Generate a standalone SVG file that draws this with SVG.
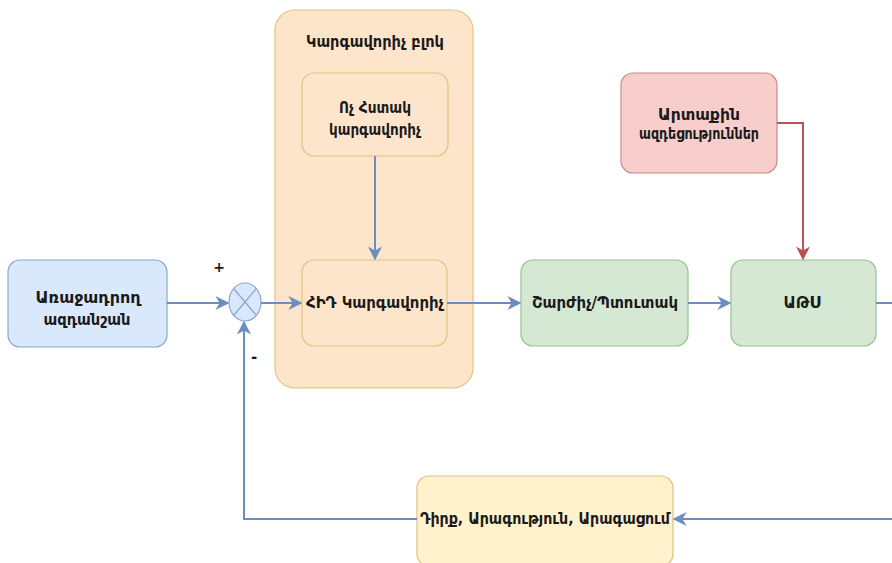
<svg xmlns="http://www.w3.org/2000/svg" width="892" height="563" viewBox="0 0 892 563">
<defs>
<style>
.t{font-family:"DejaVu Sans","Noto Sans",sans-serif;font-stretch:condensed;font-weight:bold;font-size:15px;fill:#1a1a1a;text-anchor:middle}
.blue{fill:#dae8fc;stroke:#8aa6cf;stroke-width:1.2}
.orange{fill:#fde5cc;stroke:#e4c27f;stroke-width:1.2}
.green{fill:#d5e8d4;stroke:#99bf8f;stroke-width:1.2}
.red{fill:#f8cecc;stroke:#c98a88;stroke-width:1.2}
.yellow{fill:#fff2cc;stroke:#dcc27c;stroke-width:1.2}
.c{fill:none;stroke:#6c8ebf;stroke-width:2}
.cr{fill:none;stroke:#b85450;stroke-width:2}
</style>
<marker id="abl" viewBox="0 0 10 10" refX="9" refY="5" markerWidth="14" markerHeight="14" orient="auto" markerUnits="userSpaceOnUse">
<path d="M0,0 L10,5 L0,10 L3,5 Z" fill="#6c8ebf"/>
</marker>
<marker id="ar" viewBox="0 0 10 10" refX="9" refY="5" markerWidth="14" markerHeight="14" orient="auto" markerUnits="userSpaceOnUse">
<path d="M0,0 L10,5 L0,10 L3,5 Z" fill="#b85450"/>
</marker>
</defs>
<rect width="892" height="563" fill="#ffffff"/>

<g id="controller-block">
<rect class="orange" x="275" y="10" width="198" height="378" rx="20"/>
<text class="t" x="375" y="47" textLength="138" lengthAdjust="spacingAndGlyphs">Կարգավորիչ բլոկ</text>
</g>

<g id="fuzzy">
<rect class="orange" x="302" y="73" width="146" height="83" rx="12"/>
<text class="t" x="375" y="113" textLength="72" lengthAdjust="spacingAndGlyphs">Ոչ Հստակ</text>
<text class="t" x="375" y="135" textLength="92" lengthAdjust="spacingAndGlyphs">կարգավորիչ</text>
</g>

<g id="pid">
<rect class="orange" x="302" y="260" width="145" height="86" rx="12"/>
<text class="t" x="375" y="308" textLength="138" lengthAdjust="spacingAndGlyphs">ՀԻԴ Կարգավորիչ</text>
</g>

<g id="reference">
<rect class="blue" x="8" y="260" width="159" height="87" rx="12"/>
<text class="t" x="88" y="303" textLength="105" lengthAdjust="spacingAndGlyphs">Առաջադրող</text>
<text class="t" x="87" y="325" textLength="87" lengthAdjust="spacingAndGlyphs">ազդանշան</text>
</g>

<g id="sum">
<ellipse cx="245" cy="302" rx="16" ry="19" fill="#dae8fc" stroke="#8aa6cf" stroke-width="1.2"/>
<line x1="234" y1="289" x2="256" y2="315" stroke="#8aa6cf" stroke-width="1.2"/>
<line x1="256" y1="289" x2="234" y2="315" stroke="#8aa6cf" stroke-width="1.2"/>
<text x="219" y="272" font-family="DejaVu Sans,sans-serif" font-weight="bold" font-size="14" fill="#1a1a1a" text-anchor="middle">+</text>
<text x="254" y="362" font-family="DejaVu Sans,sans-serif" font-weight="bold" font-size="15" fill="#1a1a1a" text-anchor="middle">-</text>
</g>

<g id="motor">
<rect class="green" x="521" y="260" width="167" height="86" rx="12"/>
<text class="t" x="605" y="308" textLength="146" lengthAdjust="spacingAndGlyphs">Շարժիչ/Պտուտակ</text>
</g>

<g id="uav">
<rect class="green" x="731" y="260" width="145" height="86" rx="12"/>
<text class="t" x="802" y="308" textLength="37" lengthAdjust="spacingAndGlyphs">ԱԹՍ</text>
</g>

<g id="disturbance">
<rect class="red" x="621" y="73" width="156" height="100" rx="12"/>
<text class="t" x="699" y="120" textLength="82" lengthAdjust="spacingAndGlyphs">Արտաքին</text>
<text class="t" x="699" y="139" textLength="120" lengthAdjust="spacingAndGlyphs">ազդեցություններ</text>
</g>

<g id="sensor">
<rect class="yellow" x="417" y="476" width="256" height="90" rx="12"/>
<text class="t" x="545" y="524" textLength="250" lengthAdjust="spacingAndGlyphs">Դիրք, Արագություն, Արագացում</text>
</g>

<g id="connectors">
<path class="c" d="M167,303 H228" marker-end="url(#abl)"/>
<path class="c" d="M261,303 H301" marker-end="url(#abl)"/>
<path class="c" d="M375,156 V259" marker-end="url(#abl)"/>
<path class="c" d="M447,303 H520" marker-end="url(#abl)"/>
<path class="c" d="M688,303 H730" marker-end="url(#abl)"/>
<path class="c" d="M876,303 H892 M892,519 H674" marker-end="url(#abl)"/>
<path class="c" d="M417,519 H244 V322" marker-end="url(#abl)"/>
<path class="cr" d="M777,123 H803 V259" marker-end="url(#ar)"/>
</g>
</svg>
